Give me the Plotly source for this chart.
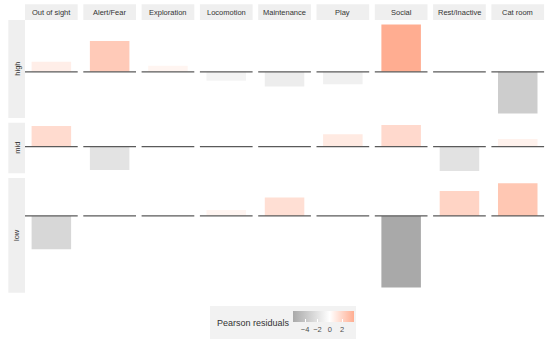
import plotly.graph_objects as go

# ---- data ----
behaviours = ["Out of sight", "Alert/Fear", "Exploration", "Locomotion", "Maintenance",
              "Play", "Social", "Rest/Inactive", "Cat room"]
levels = ["high", "mid", "low"]
resid_high = [0.83, 2.56, 0.50, -0.75, -1.22, -1.03, 3.95, 0.02, -3.48]
resid_mid = [1.72, -1.94, 0.02, -0.03, 0.03, 1.03, 1.81, -2.03, 0.64]
resid_low = [-2.78, -0.12, -0.12, 0.50, 1.53, 0.02, -5.97, 2.08, 2.72]
legend_ticks = [-4, -2, 0, 2]
legend_title = "Pearson residuals"

rows = [resid_high, resid_mid, resid_low]

W, H = 550, 344
FONT = "Liberation Sans, Arial, sans-serif"

# colour scale: grey - white(0) - salmon
allv = [v for r in rows for v in r]
vmin, vmax = min(allv), max(allv)
z0 = -vmin / (vmax - vmin)
colorscale = [[0, "#A9A9A9"], [z0, "#FFFFFF"], [1, "#FFAD91"]]

# ---- layout geometry (pixels) ----
px_left, panel_w, gap_x = 25.0, 52.7, 5.6
top, bottom, gap_y = 20.0, 292.7, 4.7
strip_top_h = 15.7
strip_left_x0 = 8.3

ranges = []
for r in rows:
    lo, hi = min(r), max(r)
    ext = (hi - lo) * 0.05
    ranges.append((lo - ext, hi + ext))
spans = [hi - lo for lo, hi in ranges]
avail = bottom - top - gap_y * (len(rows) - 1)
heights = [avail * s / sum(spans) for s in spans]

fig = go.Figure()
layout = {}
shapes = []
annotations = []

row_y = []
y = top
for h in heights:
    row_y.append((y, y + h))
    y += h + gap_y

n = 0
for ri, r in enumerate(rows):
    y0p, y1p = row_y[ri]
    for ci, b in enumerate(behaviours):
        n += 1
        x0p = px_left + ci * (panel_w + gap_x)
        x1p = x0p + panel_w
        xa = "x" if n == 1 else f"x{n}"
        ya = "y" if n == 1 else f"y{n}"
        layout["xaxis" if n == 1 else f"xaxis{n}"] = dict(
            domain=[x0p / W, x1p / W], anchor=ya, range=[-0.6, 0.6],
            visible=False, fixedrange=True)
        layout["yaxis" if n == 1 else f"yaxis{n}"] = dict(
            domain=[1 - y1p / H, 1 - y0p / H], anchor=xa, range=list(ranges[ri]),
            visible=False, fixedrange=True)
        fig.add_trace(go.Bar(
            x=[0], y=[r[ci]], width=0.9, xaxis=xa, yaxis=ya,
            marker=dict(color=[r[ci]], coloraxis="coloraxis", line=dict(width=0)),
            showlegend=False, hoverinfo="skip"))
        shapes.append(dict(type="line", xref=f"{xa} domain", yref=ya,
                           x0=0, x1=1, y0=0, y1=0,
                           line=dict(color="#5A5A5A", width=1.3), layer="above"))
        if ri == 0:
            shapes.append(dict(type="rect", xref="paper", yref="paper",
                               x0=x0p / W, x1=x1p / W,
                               y0=1 - top / H, y1=1 - (top - strip_top_h) / H,
                               fillcolor="#EFEFEF", line=dict(width=0), layer="below"))
            annotations.append(dict(text=b, xref="paper", yref="paper",
                                    x=(x0p + x1p) / 2 / W,
                                    y=1 - (top - strip_top_h / 2) / H,
                                    showarrow=False, xanchor="center", yanchor="middle",
                                    font=dict(size=7.5, color="#333333", family=FONT)))
    shapes.append(dict(type="rect", xref="paper", yref="paper",
                       x0=strip_left_x0 / W, x1=px_left / W,
                       y0=1 - y1p / H, y1=1 - y0p / H,
                       fillcolor="#EFEFEF", line=dict(width=0), layer="below"))
    annotations.append(dict(text=levels[ri], xref="paper", yref="paper",
                            x=(strip_left_x0 + px_left) / 2 / W,
                            y=1 - (y0p + y1p) / 2 / H, textangle=-90,
                            showarrow=False, xanchor="center", yanchor="middle",
                            font=dict(size=7.5, color="#333333", family=FONT)))

# legend box
shapes.append(dict(type="rect", xref="paper", yref="paper",
                   x0=210 / W, x1=356 / W, y0=1 - 339 / H, y1=1 - 306 / H,
                   fillcolor="#F2F2F2", line=dict(width=0), layer="below"))
annotations.append(dict(text=legend_title, xref="paper", yref="paper",
                        x=215 / W, y=1 - 323 / H, xanchor="left", yanchor="middle",
                        showarrow=False,
                        font=dict(size=9, color="#333333", family=FONT)))

fig.update_layout(
    **layout,
    width=W, height=H,
    margin=dict(l=0, r=0, t=0, b=0, autoexpand=False),
    paper_bgcolor="white", plot_bgcolor="white",
    shapes=shapes, annotations=annotations,
    barmode="overlay",
    coloraxis=dict(
        colorscale=colorscale, cmin=vmin, cmax=vmax,
        colorbar=dict(
            orientation="h", x=293 / W, xanchor="left",
            y=1 - 310.7 / H, yanchor="top",
            len=60.7, lenmode="pixels", thickness=11, thicknessmode="pixels",
            xpad=0, ypad=0, outlinewidth=0,
            tickvals=legend_ticks, ticktext=[str(t).replace("-", "\u2212") for t in legend_ticks],
            ticks="inside", tickcolor="white", ticklen=3,
            tickfont=dict(size=7.5, color="#4D4D4D", family=FONT),
            title=dict(text=""))),
    font=dict(family=FONT),
)

fig.write_html("out.html", config={"displayModeBar": False, "staticPlot": True})

# remove the browser's default page margin so the figure sits at (0, 0)
with open("out.html", encoding="utf-8") as f:
    html = f.read()
html = html.replace("<head>", "<head><style>html,body{margin:0;padding:0;overflow:hidden}</style>", 1)
with open("out.html", "w", encoding="utf-8") as f:
    f.write(html)
